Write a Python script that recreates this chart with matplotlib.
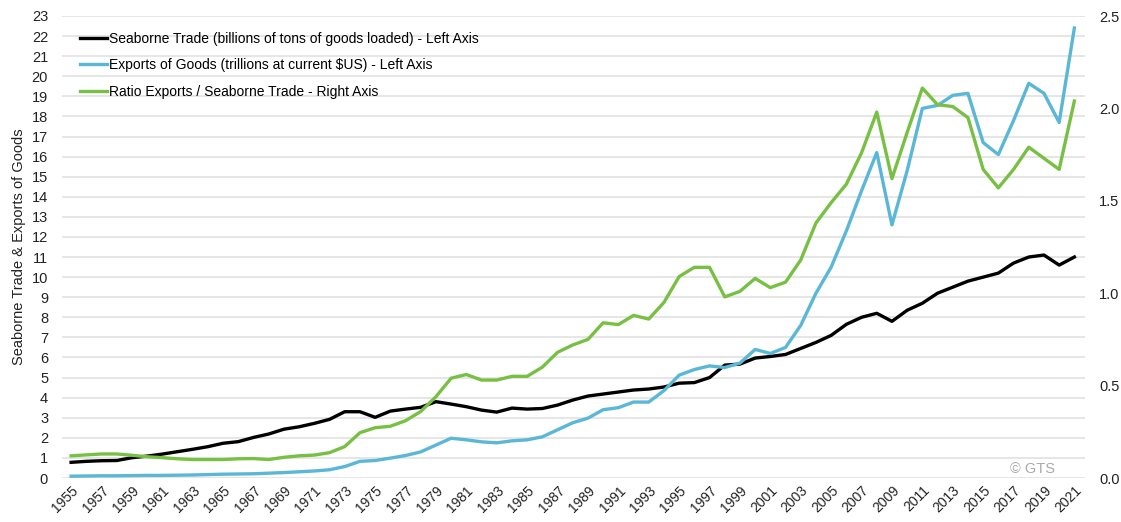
import numpy as np
import matplotlib
matplotlib.use("Agg")
import matplotlib.pyplot as plt

plt.rcParams["font.family"] = ["Liberation Sans", "DejaVu Sans"]

years = np.arange(1955, 2022)

# billions of tons of goods loaded (left axis)
seaborne = [
    0.78, 0.83, 0.86, 0.87, 1.01, 1.09, 1.19, 1.31, 1.43, 1.56,
    1.73, 1.81, 2.02, 2.19, 2.43, 2.55, 2.72, 2.92, 3.30, 3.30,
    3.02, 3.33, 3.43, 3.52, 3.80, 3.68, 3.55, 3.38, 3.28, 3.48,
    3.43, 3.46, 3.63, 3.88, 4.08, 4.18, 4.28, 4.38, 4.43, 4.53,
    4.72, 4.75, 5.00, 5.62, 5.67, 5.97, 6.05, 6.15, 6.45, 6.75,
    7.10, 7.65, 8.00, 8.20, 7.80, 8.35, 8.70, 9.20, 9.50, 9.80,
    10.00, 10.20, 10.70, 11.00, 11.10, 10.60, 11.00,
]

# trillions at current $US (left axis)
exports = [
    0.09, 0.10, 0.11, 0.11, 0.12, 0.13, 0.13, 0.14, 0.15, 0.17,
    0.19, 0.20, 0.21, 0.24, 0.27, 0.31, 0.35, 0.41, 0.57, 0.83,
    0.87, 0.99, 1.12, 1.30, 1.64, 1.98, 1.90, 1.80, 1.75, 1.85,
    1.90, 2.05, 2.40, 2.75, 2.98, 3.40, 3.50, 3.78, 3.78, 4.35,
    5.12, 5.40, 5.58, 5.50, 5.72, 6.40, 6.20, 6.50, 7.60, 9.20,
    10.50, 12.30, 14.30, 16.20, 12.60, 15.30, 18.40, 18.55, 19.05, 19.15,
    16.70, 16.10, 17.80, 19.65, 19.15, 17.70, 22.40,
]

# ratio exports / seaborne trade (right axis)
ratio = [
    0.120, 0.125, 0.130, 0.130, 0.123, 0.115, 0.110, 0.104, 0.100, 0.100,
    0.100, 0.104, 0.105, 0.100, 0.112, 0.120, 0.124, 0.137, 0.170, 0.245,
    0.272, 0.280, 0.310, 0.360, 0.440, 0.540, 0.560, 0.530, 0.530, 0.550,
    0.550, 0.600, 0.680, 0.720, 0.750, 0.840, 0.830, 0.880, 0.860, 0.950,
    1.090, 1.140, 1.140, 0.980, 1.010, 1.080, 1.030, 1.060, 1.180, 1.380,
    1.490, 1.590, 1.760, 1.980, 1.620, 1.870, 2.110, 2.020, 2.010, 1.950,
    1.670, 1.570, 1.670, 1.790, 1.730, 1.670, 2.040,
]

black = "#000000"
blue = "#5AB7D6"
green = "#78C043"

fig = plt.figure(figsize=(11.21, 5.22), dpi=100)
ax = fig.add_axes([62 / 1121, 44 / 522, (1085 - 62) / 1121, (478 - 16) / 522])
ax2 = ax.twinx()

l1, = ax.plot(years, seaborne, color=black, lw=2.4,
              label="Seaborne Trade (billions of tons of goods loaded) - Left Axis")
l2, = ax.plot(years, exports, color=blue, lw=2.4,
              label="Exports of Goods (trillions at current $US) - Left Axis")
l3, = ax2.plot(years, ratio, color=green, lw=2.4,
               label="Ratio Exports / Seaborne Trade - Right Axis")

ax.set_ylim(0, 23)
ax2.set_ylim(0, 2.5)
ax.set_xlim(1954.4, 2021.7)
ax.set_yticks(range(0, 24))
ax2.set_yticks(np.arange(0, 2.51, 0.5))
ax2.set_yticklabels([f"{v:.1f}" for v in np.arange(0, 2.51, 0.5)])
ax.set_xticks(years[::2])
ax.set_xticklabels([str(y) for y in years[::2]], rotation=45, ha="right",
                   rotation_mode="anchor")

ax.grid(axis="y", color="#e6e6e6", lw=1.4)
ax.set_axisbelow(True)
for a in (ax, ax2):
    for s in a.spines.values():
        s.set_visible(False)
    a.tick_params(length=0, labelsize=10.5, colors="#222222")
ax.tick_params(axis="x", labelsize=10, pad=4)
ax.tick_params(axis="y", pad=10)
ax2.tick_params(axis="y", pad=10)

ax.set_ylabel("Seaborne Trade & Exports of Goods", fontsize=10.5, color="#222222")

ax.legend(handles=[l1, l2, l3], loc="upper left", frameon=False,
          fontsize=10, handlelength=2.0, handletextpad=0.1,
          labelspacing=0.9, bbox_to_anchor=(0.005, 0.993))

ax.text(0.971, 0.005, "© GTS", transform=ax.transAxes, ha="right", va="bottom",
        fontsize=10.5, color="#aaaaaa")

fig.savefig("out.png", dpi=100)
